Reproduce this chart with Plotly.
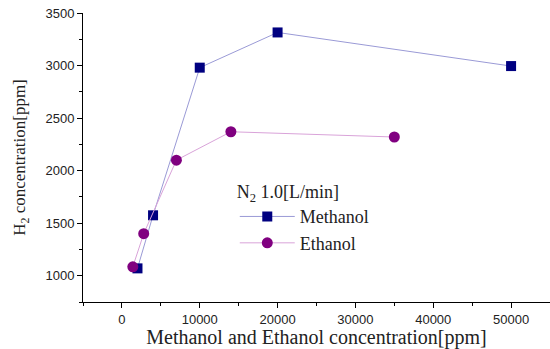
import plotly.graph_objects as go

methanol_x = [2000, 4000, 10000, 20000, 50000]
methanol_y = [1070, 1575, 2980, 3315, 2995]
ethanol_x = [1400, 2800, 7000, 14000, 35000]
ethanol_y = [1085, 1400, 2100, 2370, 2320]

x_ticks = [0, 10000, 20000, 30000, 40000, 50000]
y_ticks = [1000, 1500, 2000, 2500, 3000, 3500]

fig = go.Figure()
fig.add_trace(go.Scatter(
    x=methanol_x, y=methanol_y, mode="lines+markers", name="Methanol",
    line=dict(color="#9a9ad6", width=1),
    marker=dict(symbol="square", size=10, color="#000080"),
))
fig.add_trace(go.Scatter(
    x=ethanol_x, y=ethanol_y, mode="lines+markers", name="Ethanol",
    line=dict(color="#d9a3d9", width=1),
    marker=dict(symbol="circle", size=11, color="#800080"),
))

axis_common = dict(
    showgrid=False, zeroline=False, showline=True, linecolor="black", linewidth=1,
    ticks="outside", ticklen=5, tickcolor="black", tickwidth=1,
    tickfont=dict(family="Liberation Sans, Arial", size=13, color="#222"),
)

fig.update_xaxes(
    range=[-5000, 55000], tickvals=x_ticks, ticktext=[str(v) for v in x_ticks],
    minor=dict(dtick=5000, tick0=0, ticks="outside", ticklen=3, tickcolor="black"),
    title=dict(text="Methanol and Ethanol concentration[ppm]",
               font=dict(family="Liberation Serif, Times New Roman", size=20, color="#222"),
               standoff=6),
    **axis_common,
)
fig.update_yaxes(
    range=[750, 3500], tickvals=y_ticks, ticktext=[str(v) for v in y_ticks],
    minor=dict(dtick=250, tick0=0, ticks="outside", ticklen=3, tickcolor="black"),
    title=dict(text="H<sub>2</sub> concentration[ppm]",
               font=dict(family="Liberation Serif, Times New Roman", size=17, color="#222"),
               standoff=15),
    **axis_common,
)

fig.update_layout(
    width=550, height=349,
    margin=dict(l=83, r=0, t=13, b=47),
    paper_bgcolor="white", plot_bgcolor="white",
    showlegend=True,
    legend=dict(
        title=dict(text="N<sub>2</sub> 1.0[L/min]",
                   font=dict(family="Liberation Serif, Times New Roman", size=18, color="#222")),
        font=dict(family="Liberation Serif, Times New Roman", size=18, color="#222"),
        x=0.325, y=0.44, xanchor="left", yanchor="top",
        bgcolor="rgba(0,0,0,0)", itemwidth=55, tracegroupgap=0,
    ),
)

fig.write_html("out.html")
